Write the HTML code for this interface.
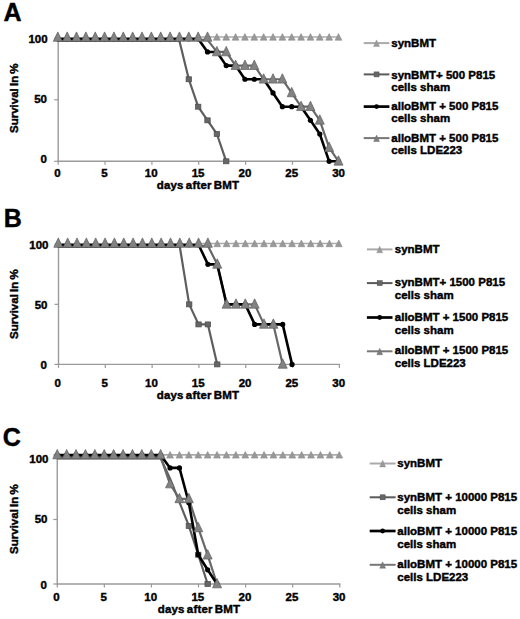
<!DOCTYPE html>
<html><head><meta charset="utf-8"><style>
html,body{margin:0;padding:0;background:#fff;width:520px;height:619px;overflow:hidden}
svg{display:block}
text{font-family:"Liberation Sans", sans-serif;fill:#000;stroke:#000;stroke-width:0.42px}
</style></head><body>
<svg width="520" height="619" viewBox="0 0 520 619">
<text x="3.5" y="20.6" font-size="25" font-weight="bold">A</text>
<line x1="58.2" y1="37.8" x2="58.2" y2="161.8" stroke="#9a9a9a" stroke-width="1.4"/>
<line x1="57.7" y1="161.3" x2="340" y2="161.3" stroke="#9a9a9a" stroke-width="1.4"/>
<line x1="54.2" y1="161.3" x2="58.2" y2="161.3" stroke="#9a9a9a" stroke-width="1.2"/>
<line x1="54.2" y1="99.8" x2="58.2" y2="99.8" stroke="#9a9a9a" stroke-width="1.2"/>
<line x1="54.2" y1="38.3" x2="58.2" y2="38.3" stroke="#9a9a9a" stroke-width="1.2"/>
<line x1="58.2" y1="161.3" x2="58.2" y2="164.8" stroke="#9a9a9a" stroke-width="1.2"/>
<line x1="105.05" y1="161.3" x2="105.05" y2="164.8" stroke="#9a9a9a" stroke-width="1.2"/>
<line x1="151.9" y1="161.3" x2="151.9" y2="164.8" stroke="#9a9a9a" stroke-width="1.2"/>
<line x1="198.75" y1="161.3" x2="198.75" y2="164.8" stroke="#9a9a9a" stroke-width="1.2"/>
<line x1="245.6" y1="161.3" x2="245.6" y2="164.8" stroke="#9a9a9a" stroke-width="1.2"/>
<line x1="292.45" y1="161.3" x2="292.45" y2="164.8" stroke="#9a9a9a" stroke-width="1.2"/>
<line x1="339.3" y1="161.3" x2="339.3" y2="164.8" stroke="#9a9a9a" stroke-width="1.2"/>
<text x="47.6" y="43.2" font-size="11.5" font-weight="bold" text-anchor="end">100</text>
<text x="47" y="103.2" font-size="11.5" font-weight="bold" text-anchor="end">50</text>
<text x="47" y="162.7" font-size="11.5" font-weight="bold" text-anchor="end">0</text>
<text x="57.50" y="177.2" font-size="11.5" font-weight="bold" text-anchor="middle">0</text>
<text x="104.35" y="177.2" font-size="11.5" font-weight="bold" text-anchor="middle">5</text>
<text x="151.20" y="177.2" font-size="11.5" font-weight="bold" text-anchor="middle">10</text>
<text x="198.05" y="177.2" font-size="11.5" font-weight="bold" text-anchor="middle">15</text>
<text x="244.90" y="177.2" font-size="11.5" font-weight="bold" text-anchor="middle">20</text>
<text x="291.75" y="177.2" font-size="11.5" font-weight="bold" text-anchor="middle">25</text>
<text x="338.60" y="177.2" font-size="11.5" font-weight="bold" text-anchor="middle">30</text>
<text x="198" y="189.4" font-size="11.5" font-weight="bold" text-anchor="middle" word-spacing="-1.2" letter-spacing="0.18">days after BMT</text>
<text transform="translate(17.9,98.2) rotate(-90)" x="0" y="0" font-size="11.5" font-weight="bold" text-anchor="middle" word-spacing="-1">Survival In %</text>
<polyline points="198.15,37.00 207.51,37.00 216.87,37.00 226.23,37.00 235.58,37.00 244.94,37.00 254.30,37.00 263.65,37.00 273.01,37.00 282.37,37.00 291.72,37.00 301.08,37.00 310.44,37.00 319.80,37.00 329.15,37.00 338.51,37.00" fill="none" stroke="#ababab" stroke-width="1.7" stroke-linejoin="round"/>
<polygon points="54.40,40.20 57.80,33.60 61.20,40.20" fill="#999" stroke="#8c8c8c" stroke-width="0.6"/>
<polygon points="63.76,40.20 67.16,33.60 70.56,40.20" fill="#999" stroke="#8c8c8c" stroke-width="0.6"/>
<polygon points="73.11,40.20 76.51,33.60 79.91,40.20" fill="#999" stroke="#8c8c8c" stroke-width="0.6"/>
<polygon points="82.47,40.20 85.87,33.60 89.27,40.20" fill="#999" stroke="#8c8c8c" stroke-width="0.6"/>
<polygon points="91.83,40.20 95.23,33.60 98.63,40.20" fill="#999" stroke="#8c8c8c" stroke-width="0.6"/>
<polygon points="101.18,40.20 104.58,33.60 107.98,40.20" fill="#999" stroke="#8c8c8c" stroke-width="0.6"/>
<polygon points="110.54,40.20 113.94,33.60 117.34,40.20" fill="#999" stroke="#8c8c8c" stroke-width="0.6"/>
<polygon points="119.90,40.20 123.30,33.60 126.70,40.20" fill="#999" stroke="#8c8c8c" stroke-width="0.6"/>
<polygon points="129.26,40.20 132.66,33.60 136.06,40.20" fill="#999" stroke="#8c8c8c" stroke-width="0.6"/>
<polygon points="138.61,40.20 142.01,33.60 145.41,40.20" fill="#999" stroke="#8c8c8c" stroke-width="0.6"/>
<polygon points="147.97,40.20 151.37,33.60 154.77,40.20" fill="#999" stroke="#8c8c8c" stroke-width="0.6"/>
<polygon points="157.33,40.20 160.73,33.60 164.13,40.20" fill="#999" stroke="#8c8c8c" stroke-width="0.6"/>
<polygon points="166.68,40.20 170.08,33.60 173.48,40.20" fill="#999" stroke="#8c8c8c" stroke-width="0.6"/>
<polygon points="176.04,40.20 179.44,33.60 182.84,40.20" fill="#999" stroke="#8c8c8c" stroke-width="0.6"/>
<polygon points="185.40,40.20 188.80,33.60 192.20,40.20" fill="#999" stroke="#8c8c8c" stroke-width="0.6"/>
<polygon points="194.75,40.20 198.15,33.60 201.55,40.20" fill="#999" stroke="#8c8c8c" stroke-width="0.6"/>
<polygon points="204.11,40.20 207.51,33.60 210.91,40.20" fill="#999" stroke="#8c8c8c" stroke-width="0.6"/>
<polygon points="213.47,40.20 216.87,33.60 220.27,40.20" fill="#999" stroke="#8c8c8c" stroke-width="0.6"/>
<polygon points="222.83,40.20 226.23,33.60 229.63,40.20" fill="#999" stroke="#8c8c8c" stroke-width="0.6"/>
<polygon points="232.18,40.20 235.58,33.60 238.98,40.20" fill="#999" stroke="#8c8c8c" stroke-width="0.6"/>
<polygon points="241.54,40.20 244.94,33.60 248.34,40.20" fill="#999" stroke="#8c8c8c" stroke-width="0.6"/>
<polygon points="250.90,40.20 254.30,33.60 257.70,40.20" fill="#999" stroke="#8c8c8c" stroke-width="0.6"/>
<polygon points="260.25,40.20 263.65,33.60 267.05,40.20" fill="#999" stroke="#8c8c8c" stroke-width="0.6"/>
<polygon points="269.61,40.20 273.01,33.60 276.41,40.20" fill="#999" stroke="#8c8c8c" stroke-width="0.6"/>
<polygon points="278.97,40.20 282.37,33.60 285.77,40.20" fill="#999" stroke="#8c8c8c" stroke-width="0.6"/>
<polygon points="288.32,40.20 291.72,33.60 295.12,40.20" fill="#999" stroke="#8c8c8c" stroke-width="0.6"/>
<polygon points="297.68,40.20 301.08,33.60 304.48,40.20" fill="#999" stroke="#8c8c8c" stroke-width="0.6"/>
<polygon points="307.04,40.20 310.44,33.60 313.84,40.20" fill="#999" stroke="#8c8c8c" stroke-width="0.6"/>
<polygon points="316.40,40.20 319.80,33.60 323.20,40.20" fill="#999" stroke="#8c8c8c" stroke-width="0.6"/>
<polygon points="325.75,40.20 329.15,33.60 332.55,40.20" fill="#999" stroke="#8c8c8c" stroke-width="0.6"/>
<polygon points="335.11,40.20 338.51,33.60 341.91,40.20" fill="#999" stroke="#8c8c8c" stroke-width="0.6"/>
<polyline points="57.80,41.00 67.16,41.00 76.51,41.00 85.87,41.00 95.23,41.00 104.58,41.00 113.94,41.00 123.30,41.00 132.66,41.00 142.01,41.00 151.37,41.00 160.73,41.00 170.08,41.00 179.44,41.00 188.80,79.26 198.15,106.69 207.51,120.34 216.87,133.99 226.23,161.30" fill="none" stroke="#5e5e5e" stroke-width="2.2" stroke-linejoin="round"/>
<rect x="186.10" y="76.76" width="5.4" height="5" fill="#666" stroke="#4a4a4a" stroke-width="0.7"/>
<rect x="195.45" y="104.19" width="5.4" height="5" fill="#666" stroke="#4a4a4a" stroke-width="0.7"/>
<rect x="204.81" y="117.84" width="5.4" height="5" fill="#666" stroke="#4a4a4a" stroke-width="0.7"/>
<rect x="214.17" y="131.49" width="5.4" height="5" fill="#666" stroke="#4a4a4a" stroke-width="0.7"/>
<rect x="223.53" y="158.80" width="5.4" height="5" fill="#666" stroke="#4a4a4a" stroke-width="0.7"/>
<polyline points="57.80,39.80 67.16,39.80 76.51,39.80 85.87,39.80 95.23,39.80 104.58,39.80 113.94,39.80 123.30,39.80 132.66,39.80 142.01,39.80 151.37,39.80 160.73,39.80 170.08,39.80 179.44,39.80 188.80,39.80 198.15,39.80 207.51,39.80 216.87,51.95 226.23,51.95 235.58,65.61 244.94,65.61 254.30,65.61 263.65,79.26 273.01,79.26 282.37,79.26 291.72,92.91 301.08,106.69 310.44,106.69 319.80,120.34 329.15,147.65 338.51,161.30" fill="none" stroke="#686868" stroke-width="2.2" stroke-linejoin="round"/>
<polyline points="57.80,38.80 67.16,38.80 76.51,38.80 85.87,38.80 95.23,38.80 104.58,38.80 113.94,38.80 123.30,38.80 132.66,38.80 142.01,38.80 151.37,38.80 160.73,38.80 170.08,38.80 179.44,38.80 188.80,38.80 198.15,38.80 207.51,51.95 216.87,51.95 226.23,65.61 235.58,65.61 244.94,79.26 254.30,79.26 263.65,79.26 273.01,92.91 282.37,106.69 291.72,106.69 301.08,106.69 310.44,120.34 319.80,133.99 329.15,161.30 338.51,161.30" fill="none" stroke="#000000" stroke-width="2.6" stroke-linejoin="round"/>
<circle cx="57.80" cy="38.80" r="2.6" fill="#000"/>
<circle cx="67.16" cy="38.80" r="2.6" fill="#000"/>
<circle cx="76.51" cy="38.80" r="2.6" fill="#000"/>
<circle cx="85.87" cy="38.80" r="2.6" fill="#000"/>
<circle cx="95.23" cy="38.80" r="2.6" fill="#000"/>
<circle cx="104.58" cy="38.80" r="2.6" fill="#000"/>
<circle cx="113.94" cy="38.80" r="2.6" fill="#000"/>
<circle cx="123.30" cy="38.80" r="2.6" fill="#000"/>
<circle cx="132.66" cy="38.80" r="2.6" fill="#000"/>
<circle cx="142.01" cy="38.80" r="2.6" fill="#000"/>
<circle cx="151.37" cy="38.80" r="2.6" fill="#000"/>
<circle cx="160.73" cy="38.80" r="2.6" fill="#000"/>
<circle cx="170.08" cy="38.80" r="2.6" fill="#000"/>
<circle cx="179.44" cy="38.80" r="2.6" fill="#000"/>
<circle cx="188.80" cy="38.80" r="2.6" fill="#000"/>
<circle cx="198.15" cy="38.80" r="2.6" fill="#000"/>
<circle cx="207.51" cy="51.95" r="2.6" fill="#000"/>
<circle cx="216.87" cy="51.95" r="2.6" fill="#000"/>
<circle cx="226.23" cy="65.61" r="2.6" fill="#000"/>
<circle cx="235.58" cy="65.61" r="2.6" fill="#000"/>
<circle cx="244.94" cy="79.26" r="2.6" fill="#000"/>
<circle cx="254.30" cy="79.26" r="2.6" fill="#000"/>
<circle cx="263.65" cy="79.26" r="2.6" fill="#000"/>
<circle cx="273.01" cy="92.91" r="2.6" fill="#000"/>
<circle cx="282.37" cy="106.69" r="2.6" fill="#000"/>
<circle cx="291.72" cy="106.69" r="2.6" fill="#000"/>
<circle cx="301.08" cy="106.69" r="2.6" fill="#000"/>
<circle cx="310.44" cy="120.34" r="2.6" fill="#000"/>
<circle cx="319.80" cy="133.99" r="2.6" fill="#000"/>
<circle cx="329.15" cy="161.30" r="2.6" fill="#000"/>
<circle cx="338.51" cy="161.30" r="2.6" fill="#000"/>
<polygon points="53.30,41.30 57.80,31.90 62.30,41.30" fill="#828282" stroke="#5e5e5e" stroke-width="0.7"/>
<polygon points="62.66,41.30 67.16,31.90 71.66,41.30" fill="#828282" stroke="#5e5e5e" stroke-width="0.7"/>
<polygon points="72.01,41.30 76.51,31.90 81.01,41.30" fill="#828282" stroke="#5e5e5e" stroke-width="0.7"/>
<polygon points="81.37,41.30 85.87,31.90 90.37,41.30" fill="#828282" stroke="#5e5e5e" stroke-width="0.7"/>
<polygon points="90.73,41.30 95.23,31.90 99.73,41.30" fill="#828282" stroke="#5e5e5e" stroke-width="0.7"/>
<polygon points="100.08,41.30 104.58,31.90 109.08,41.30" fill="#828282" stroke="#5e5e5e" stroke-width="0.7"/>
<polygon points="109.44,41.30 113.94,31.90 118.44,41.30" fill="#828282" stroke="#5e5e5e" stroke-width="0.7"/>
<polygon points="118.80,41.30 123.30,31.90 127.80,41.30" fill="#828282" stroke="#5e5e5e" stroke-width="0.7"/>
<polygon points="128.16,41.30 132.66,31.90 137.16,41.30" fill="#828282" stroke="#5e5e5e" stroke-width="0.7"/>
<polygon points="137.51,41.30 142.01,31.90 146.51,41.30" fill="#828282" stroke="#5e5e5e" stroke-width="0.7"/>
<polygon points="146.87,41.30 151.37,31.90 155.87,41.30" fill="#828282" stroke="#5e5e5e" stroke-width="0.7"/>
<polygon points="156.23,41.30 160.73,31.90 165.23,41.30" fill="#828282" stroke="#5e5e5e" stroke-width="0.7"/>
<polygon points="165.58,41.30 170.08,31.90 174.58,41.30" fill="#828282" stroke="#5e5e5e" stroke-width="0.7"/>
<polygon points="174.94,41.30 179.44,31.90 183.94,41.30" fill="#828282" stroke="#5e5e5e" stroke-width="0.7"/>
<polygon points="184.30,41.30 188.80,31.90 193.30,41.30" fill="#828282" stroke="#5e5e5e" stroke-width="0.7"/>
<polygon points="193.65,41.30 198.15,31.90 202.65,41.30" fill="#828282" stroke="#5e5e5e" stroke-width="0.7"/>
<polygon points="203.01,41.30 207.51,31.90 212.01,41.30" fill="#828282" stroke="#5e5e5e" stroke-width="0.7"/>
<polygon points="212.37,55.80 216.87,46.40 221.37,55.80" fill="#828282" stroke="#5e5e5e" stroke-width="0.7"/>
<polygon points="221.73,55.80 226.23,46.40 230.73,55.80" fill="#828282" stroke="#5e5e5e" stroke-width="0.7"/>
<polygon points="231.08,69.46 235.58,60.06 240.08,69.46" fill="#828282" stroke="#5e5e5e" stroke-width="0.7"/>
<polygon points="240.44,69.46 244.94,60.06 249.44,69.46" fill="#828282" stroke="#5e5e5e" stroke-width="0.7"/>
<polygon points="249.80,69.46 254.30,60.06 258.80,69.46" fill="#828282" stroke="#5e5e5e" stroke-width="0.7"/>
<polygon points="259.15,83.11 263.65,73.71 268.15,83.11" fill="#828282" stroke="#5e5e5e" stroke-width="0.7"/>
<polygon points="268.51,83.11 273.01,73.71 277.51,83.11" fill="#828282" stroke="#5e5e5e" stroke-width="0.7"/>
<polygon points="277.87,83.11 282.37,73.71 286.87,83.11" fill="#828282" stroke="#5e5e5e" stroke-width="0.7"/>
<polygon points="287.22,96.76 291.72,87.36 296.22,96.76" fill="#828282" stroke="#5e5e5e" stroke-width="0.7"/>
<polygon points="296.58,110.54 301.08,101.14 305.58,110.54" fill="#828282" stroke="#5e5e5e" stroke-width="0.7"/>
<polygon points="305.94,110.54 310.44,101.14 314.94,110.54" fill="#828282" stroke="#5e5e5e" stroke-width="0.7"/>
<polygon points="315.30,124.19 319.80,114.79 324.30,124.19" fill="#828282" stroke="#5e5e5e" stroke-width="0.7"/>
<polygon points="324.65,151.50 329.15,142.10 333.65,151.50" fill="#828282" stroke="#5e5e5e" stroke-width="0.7"/>
<polygon points="334.01,165.15 338.51,155.75 343.01,165.15" fill="#828282" stroke="#5e5e5e" stroke-width="0.7"/>
<line x1="363.7" y1="43.1" x2="389.4" y2="43.1" stroke="#aaaaaa" stroke-width="2"/>
<polygon points="373.55,46.50 376.55,39.90 379.55,46.50" fill="#9a9a9a" stroke="#8c8c8c" stroke-width="0.4"/>
<text x="391.3" y="46.9" font-size="11.5" font-weight="bold">synBMT</text>
<line x1="363.7" y1="74.4" x2="389.4" y2="74.4" stroke="#5a5a5a" stroke-width="2"/>
<rect x="374.05" y="71.90" width="5" height="5" fill="#666" stroke="#4a4a4a" stroke-width="0.5"/>
<text x="391.3" y="78.75" font-size="11.5" font-weight="bold">synBMT+ 500 P815</text>
<text x="391.3" y="91.25" font-size="11.5" font-weight="bold">cells sham</text>
<line x1="363.7" y1="106.6" x2="389.4" y2="106.6" stroke="#000000" stroke-width="2.7"/>
<circle cx="376.55" cy="106.60" r="2.4" fill="#000"/>
<text x="391.3" y="109.9" font-size="11.5" font-weight="bold">alloBMT + 500 P815</text>
<text x="391.3" y="122.3" font-size="11.5" font-weight="bold">cells sham</text>
<line x1="363.7" y1="138.1" x2="389.4" y2="138.1" stroke="#777777" stroke-width="2"/>
<polygon points="373.65,141.50 376.55,135.10 379.45,141.50" fill="#7e7e7e" stroke="#5e5e5e" stroke-width="0.4"/>
<text x="391.3" y="141.6" font-size="11.5" font-weight="bold">alloBMT + 500 P815</text>
<text x="391.3" y="154" font-size="11.5" font-weight="bold">cells LDE223</text>
<text x="3.7" y="226.6" font-size="25" font-weight="bold">B</text>
<line x1="58.5" y1="243.8" x2="58.5" y2="364.9" stroke="#9a9a9a" stroke-width="1.4"/>
<line x1="58.0" y1="364.4" x2="340.09" y2="364.4" stroke="#9a9a9a" stroke-width="1.4"/>
<line x1="54.5" y1="364.4" x2="58.5" y2="364.4" stroke="#9a9a9a" stroke-width="1.2"/>
<line x1="54.5" y1="304.35" x2="58.5" y2="304.35" stroke="#9a9a9a" stroke-width="1.2"/>
<line x1="54.5" y1="244.3" x2="58.5" y2="244.3" stroke="#9a9a9a" stroke-width="1.2"/>
<line x1="58.5" y1="364.4" x2="58.5" y2="367.9" stroke="#9a9a9a" stroke-width="1.2"/>
<line x1="105.31" y1="364.4" x2="105.31" y2="367.9" stroke="#9a9a9a" stroke-width="1.2"/>
<line x1="152.13" y1="364.4" x2="152.13" y2="367.9" stroke="#9a9a9a" stroke-width="1.2"/>
<line x1="198.94" y1="364.4" x2="198.94" y2="367.9" stroke="#9a9a9a" stroke-width="1.2"/>
<line x1="245.76" y1="364.4" x2="245.76" y2="367.9" stroke="#9a9a9a" stroke-width="1.2"/>
<line x1="292.57" y1="364.4" x2="292.57" y2="367.9" stroke="#9a9a9a" stroke-width="1.2"/>
<line x1="339.39" y1="364.4" x2="339.39" y2="367.9" stroke="#9a9a9a" stroke-width="1.2"/>
<text x="48.5" y="249.4" font-size="11.5" font-weight="bold" text-anchor="end">100</text>
<text x="47.5" y="309" font-size="11.5" font-weight="bold" text-anchor="end">50</text>
<text x="47" y="368.8" font-size="11.5" font-weight="bold" text-anchor="end">0</text>
<text x="57.80" y="387.3" font-size="11.5" font-weight="bold" text-anchor="middle">0</text>
<text x="104.61" y="387.3" font-size="11.5" font-weight="bold" text-anchor="middle">5</text>
<text x="151.43" y="387.3" font-size="11.5" font-weight="bold" text-anchor="middle">10</text>
<text x="198.25" y="387.3" font-size="11.5" font-weight="bold" text-anchor="middle">15</text>
<text x="245.06" y="387.3" font-size="11.5" font-weight="bold" text-anchor="middle">20</text>
<text x="291.88" y="387.3" font-size="11.5" font-weight="bold" text-anchor="middle">25</text>
<text x="338.69" y="387.3" font-size="11.5" font-weight="bold" text-anchor="middle">30</text>
<text x="198" y="398.7" font-size="11.5" font-weight="bold" text-anchor="middle" word-spacing="-1.2" letter-spacing="0.18">days after BMT</text>
<text transform="translate(18.0,304.1) rotate(-90)" x="0" y="0" font-size="11.5" font-weight="bold" text-anchor="middle" word-spacing="-1">Survival In %</text>
<polyline points="198.55,243.50 207.90,243.50 217.25,243.50 226.60,243.50 235.95,243.50 245.30,243.50 254.65,243.50 264.00,243.50 273.35,243.50 282.70,243.50 292.05,243.50 301.40,243.50 310.75,243.50 320.10,243.50 329.45,243.50 338.80,243.50" fill="none" stroke="#ababab" stroke-width="1.7" stroke-linejoin="round"/>
<polygon points="54.90,246.70 58.30,240.10 61.70,246.70" fill="#999" stroke="#8c8c8c" stroke-width="0.6"/>
<polygon points="64.25,246.70 67.65,240.10 71.05,246.70" fill="#999" stroke="#8c8c8c" stroke-width="0.6"/>
<polygon points="73.60,246.70 77.00,240.10 80.40,246.70" fill="#999" stroke="#8c8c8c" stroke-width="0.6"/>
<polygon points="82.95,246.70 86.35,240.10 89.75,246.70" fill="#999" stroke="#8c8c8c" stroke-width="0.6"/>
<polygon points="92.30,246.70 95.70,240.10 99.10,246.70" fill="#999" stroke="#8c8c8c" stroke-width="0.6"/>
<polygon points="101.65,246.70 105.05,240.10 108.45,246.70" fill="#999" stroke="#8c8c8c" stroke-width="0.6"/>
<polygon points="111.00,246.70 114.40,240.10 117.80,246.70" fill="#999" stroke="#8c8c8c" stroke-width="0.6"/>
<polygon points="120.35,246.70 123.75,240.10 127.15,246.70" fill="#999" stroke="#8c8c8c" stroke-width="0.6"/>
<polygon points="129.70,246.70 133.10,240.10 136.50,246.70" fill="#999" stroke="#8c8c8c" stroke-width="0.6"/>
<polygon points="139.05,246.70 142.45,240.10 145.85,246.70" fill="#999" stroke="#8c8c8c" stroke-width="0.6"/>
<polygon points="148.40,246.70 151.80,240.10 155.20,246.70" fill="#999" stroke="#8c8c8c" stroke-width="0.6"/>
<polygon points="157.75,246.70 161.15,240.10 164.55,246.70" fill="#999" stroke="#8c8c8c" stroke-width="0.6"/>
<polygon points="167.10,246.70 170.50,240.10 173.90,246.70" fill="#999" stroke="#8c8c8c" stroke-width="0.6"/>
<polygon points="176.45,246.70 179.85,240.10 183.25,246.70" fill="#999" stroke="#8c8c8c" stroke-width="0.6"/>
<polygon points="185.80,246.70 189.20,240.10 192.60,246.70" fill="#999" stroke="#8c8c8c" stroke-width="0.6"/>
<polygon points="195.15,246.70 198.55,240.10 201.95,246.70" fill="#999" stroke="#8c8c8c" stroke-width="0.6"/>
<polygon points="204.50,246.70 207.90,240.10 211.30,246.70" fill="#999" stroke="#8c8c8c" stroke-width="0.6"/>
<polygon points="213.85,246.70 217.25,240.10 220.65,246.70" fill="#999" stroke="#8c8c8c" stroke-width="0.6"/>
<polygon points="223.20,246.70 226.60,240.10 230.00,246.70" fill="#999" stroke="#8c8c8c" stroke-width="0.6"/>
<polygon points="232.55,246.70 235.95,240.10 239.35,246.70" fill="#999" stroke="#8c8c8c" stroke-width="0.6"/>
<polygon points="241.90,246.70 245.30,240.10 248.70,246.70" fill="#999" stroke="#8c8c8c" stroke-width="0.6"/>
<polygon points="251.25,246.70 254.65,240.10 258.05,246.70" fill="#999" stroke="#8c8c8c" stroke-width="0.6"/>
<polygon points="260.60,246.70 264.00,240.10 267.40,246.70" fill="#999" stroke="#8c8c8c" stroke-width="0.6"/>
<polygon points="269.95,246.70 273.35,240.10 276.75,246.70" fill="#999" stroke="#8c8c8c" stroke-width="0.6"/>
<polygon points="279.30,246.70 282.70,240.10 286.10,246.70" fill="#999" stroke="#8c8c8c" stroke-width="0.6"/>
<polygon points="288.65,246.70 292.05,240.10 295.45,246.70" fill="#999" stroke="#8c8c8c" stroke-width="0.6"/>
<polygon points="298.00,246.70 301.40,240.10 304.80,246.70" fill="#999" stroke="#8c8c8c" stroke-width="0.6"/>
<polygon points="307.35,246.70 310.75,240.10 314.15,246.70" fill="#999" stroke="#8c8c8c" stroke-width="0.6"/>
<polygon points="316.70,246.70 320.10,240.10 323.50,246.70" fill="#999" stroke="#8c8c8c" stroke-width="0.6"/>
<polygon points="326.05,246.70 329.45,240.10 332.85,246.70" fill="#999" stroke="#8c8c8c" stroke-width="0.6"/>
<polygon points="335.40,246.70 338.80,240.10 342.20,246.70" fill="#999" stroke="#8c8c8c" stroke-width="0.6"/>
<polyline points="58.30,247.00 67.65,247.00 77.00,247.00 86.35,247.00 95.70,247.00 105.05,247.00 114.40,247.00 123.75,247.00 133.10,247.00 142.45,247.00 151.80,247.00 161.15,247.00 170.50,247.00 179.85,247.00 189.20,304.35 198.55,324.41 207.90,324.41 217.25,364.40" fill="none" stroke="#5e5e5e" stroke-width="2.2" stroke-linejoin="round"/>
<rect x="186.50" y="301.85" width="5.4" height="5" fill="#666" stroke="#4a4a4a" stroke-width="0.7"/>
<rect x="195.85" y="321.91" width="5.4" height="5" fill="#666" stroke="#4a4a4a" stroke-width="0.7"/>
<rect x="205.20" y="321.91" width="5.4" height="5" fill="#666" stroke="#4a4a4a" stroke-width="0.7"/>
<rect x="214.55" y="361.90" width="5.4" height="5" fill="#666" stroke="#4a4a4a" stroke-width="0.7"/>
<polyline points="58.30,245.80 67.65,245.80 77.00,245.80 86.35,245.80 95.70,245.80 105.05,245.80 114.40,245.80 123.75,245.80 133.10,245.80 142.45,245.80 151.80,245.80 161.15,245.80 170.50,245.80 179.85,245.80 189.20,245.80 198.55,245.80 207.90,245.80 217.25,264.36 226.60,304.35 235.95,304.35 245.30,304.35 254.65,304.35 264.00,324.41 273.35,324.41 282.70,364.40" fill="none" stroke="#686868" stroke-width="2.2" stroke-linejoin="round"/>
<polyline points="58.30,244.70 67.65,244.70 77.00,244.70 86.35,244.70 95.70,244.70 105.05,244.70 114.40,244.70 123.75,244.70 133.10,244.70 142.45,244.70 151.80,244.70 161.15,244.70 170.50,244.70 179.85,244.70 189.20,244.70 198.55,244.70 207.90,264.36 217.25,264.36 226.60,304.35 235.95,304.35 245.30,304.35 254.65,324.41 264.00,324.41 273.35,324.41 282.70,324.41 292.05,364.40" fill="none" stroke="#000000" stroke-width="2.6" stroke-linejoin="round"/>
<circle cx="58.30" cy="244.70" r="2.6" fill="#000"/>
<circle cx="67.65" cy="244.70" r="2.6" fill="#000"/>
<circle cx="77.00" cy="244.70" r="2.6" fill="#000"/>
<circle cx="86.35" cy="244.70" r="2.6" fill="#000"/>
<circle cx="95.70" cy="244.70" r="2.6" fill="#000"/>
<circle cx="105.05" cy="244.70" r="2.6" fill="#000"/>
<circle cx="114.40" cy="244.70" r="2.6" fill="#000"/>
<circle cx="123.75" cy="244.70" r="2.6" fill="#000"/>
<circle cx="133.10" cy="244.70" r="2.6" fill="#000"/>
<circle cx="142.45" cy="244.70" r="2.6" fill="#000"/>
<circle cx="151.80" cy="244.70" r="2.6" fill="#000"/>
<circle cx="161.15" cy="244.70" r="2.6" fill="#000"/>
<circle cx="170.50" cy="244.70" r="2.6" fill="#000"/>
<circle cx="179.85" cy="244.70" r="2.6" fill="#000"/>
<circle cx="189.20" cy="244.70" r="2.6" fill="#000"/>
<circle cx="198.55" cy="244.70" r="2.6" fill="#000"/>
<circle cx="207.90" cy="264.36" r="2.6" fill="#000"/>
<circle cx="217.25" cy="264.36" r="2.6" fill="#000"/>
<circle cx="226.60" cy="304.35" r="2.6" fill="#000"/>
<circle cx="235.95" cy="304.35" r="2.6" fill="#000"/>
<circle cx="245.30" cy="304.35" r="2.6" fill="#000"/>
<circle cx="254.65" cy="324.41" r="2.6" fill="#000"/>
<circle cx="264.00" cy="324.41" r="2.6" fill="#000"/>
<circle cx="273.35" cy="324.41" r="2.6" fill="#000"/>
<circle cx="282.70" cy="324.41" r="2.6" fill="#000"/>
<circle cx="292.05" cy="364.40" r="2.6" fill="#000"/>
<polygon points="53.80,247.30 58.30,237.90 62.80,247.30" fill="#828282" stroke="#5e5e5e" stroke-width="0.7"/>
<polygon points="63.15,247.30 67.65,237.90 72.15,247.30" fill="#828282" stroke="#5e5e5e" stroke-width="0.7"/>
<polygon points="72.50,247.30 77.00,237.90 81.50,247.30" fill="#828282" stroke="#5e5e5e" stroke-width="0.7"/>
<polygon points="81.85,247.30 86.35,237.90 90.85,247.30" fill="#828282" stroke="#5e5e5e" stroke-width="0.7"/>
<polygon points="91.20,247.30 95.70,237.90 100.20,247.30" fill="#828282" stroke="#5e5e5e" stroke-width="0.7"/>
<polygon points="100.55,247.30 105.05,237.90 109.55,247.30" fill="#828282" stroke="#5e5e5e" stroke-width="0.7"/>
<polygon points="109.90,247.30 114.40,237.90 118.90,247.30" fill="#828282" stroke="#5e5e5e" stroke-width="0.7"/>
<polygon points="119.25,247.30 123.75,237.90 128.25,247.30" fill="#828282" stroke="#5e5e5e" stroke-width="0.7"/>
<polygon points="128.60,247.30 133.10,237.90 137.60,247.30" fill="#828282" stroke="#5e5e5e" stroke-width="0.7"/>
<polygon points="137.95,247.30 142.45,237.90 146.95,247.30" fill="#828282" stroke="#5e5e5e" stroke-width="0.7"/>
<polygon points="147.30,247.30 151.80,237.90 156.30,247.30" fill="#828282" stroke="#5e5e5e" stroke-width="0.7"/>
<polygon points="156.65,247.30 161.15,237.90 165.65,247.30" fill="#828282" stroke="#5e5e5e" stroke-width="0.7"/>
<polygon points="166.00,247.30 170.50,237.90 175.00,247.30" fill="#828282" stroke="#5e5e5e" stroke-width="0.7"/>
<polygon points="175.35,247.30 179.85,237.90 184.35,247.30" fill="#828282" stroke="#5e5e5e" stroke-width="0.7"/>
<polygon points="184.70,247.30 189.20,237.90 193.70,247.30" fill="#828282" stroke="#5e5e5e" stroke-width="0.7"/>
<polygon points="194.05,247.30 198.55,237.90 203.05,247.30" fill="#828282" stroke="#5e5e5e" stroke-width="0.7"/>
<polygon points="203.40,247.30 207.90,237.90 212.40,247.30" fill="#828282" stroke="#5e5e5e" stroke-width="0.7"/>
<polygon points="212.75,268.21 217.25,258.81 221.75,268.21" fill="#828282" stroke="#5e5e5e" stroke-width="0.7"/>
<polygon points="222.10,308.20 226.60,298.80 231.10,308.20" fill="#828282" stroke="#5e5e5e" stroke-width="0.7"/>
<polygon points="231.45,308.20 235.95,298.80 240.45,308.20" fill="#828282" stroke="#5e5e5e" stroke-width="0.7"/>
<polygon points="240.80,308.20 245.30,298.80 249.80,308.20" fill="#828282" stroke="#5e5e5e" stroke-width="0.7"/>
<polygon points="250.15,308.20 254.65,298.80 259.15,308.20" fill="#828282" stroke="#5e5e5e" stroke-width="0.7"/>
<polygon points="259.50,328.26 264.00,318.86 268.50,328.26" fill="#828282" stroke="#5e5e5e" stroke-width="0.7"/>
<polygon points="268.85,328.26 273.35,318.86 277.85,328.26" fill="#828282" stroke="#5e5e5e" stroke-width="0.7"/>
<polygon points="278.20,368.25 282.70,358.85 287.20,368.25" fill="#828282" stroke="#5e5e5e" stroke-width="0.7"/>
<line x1="366.9" y1="249.4" x2="392.5" y2="249.4" stroke="#aaaaaa" stroke-width="2"/>
<polygon points="376.70,252.80 379.70,246.20 382.70,252.80" fill="#9a9a9a" stroke="#8c8c8c" stroke-width="0.4"/>
<text x="394.8" y="252.6" font-size="11.5" font-weight="bold">synBMT</text>
<line x1="366.9" y1="283.1" x2="392.5" y2="283.1" stroke="#5a5a5a" stroke-width="2"/>
<rect x="377.20" y="280.60" width="5" height="5" fill="#666" stroke="#4a4a4a" stroke-width="0.5"/>
<text x="394.8" y="286.3" font-size="11.5" font-weight="bold">synBMT+ 1500 P815</text>
<text x="394.8" y="299.2" font-size="11.5" font-weight="bold">cells sham</text>
<line x1="366.9" y1="317.5" x2="392.5" y2="317.5" stroke="#000000" stroke-width="2.7"/>
<circle cx="379.70" cy="317.50" r="2.4" fill="#000"/>
<text x="394.8" y="320.6" font-size="11.5" font-weight="bold">alloBMT + 1500 P815</text>
<text x="394.8" y="333.6" font-size="11.5" font-weight="bold">cells sham</text>
<line x1="366.9" y1="351.3" x2="392.5" y2="351.3" stroke="#777777" stroke-width="2"/>
<polygon points="376.80,354.70 379.70,348.30 382.60,354.70" fill="#7e7e7e" stroke="#5e5e5e" stroke-width="0.4"/>
<text x="394.8" y="354.4" font-size="11.5" font-weight="bold">alloBMT + 1500 P815</text>
<text x="394.8" y="367.4" font-size="11.5" font-weight="bold">cells LDE223</text>
<text x="2.8" y="445.6" font-size="25" font-weight="bold">C</text>
<line x1="57.25" y1="454.5" x2="57.25" y2="584.5" stroke="#9a9a9a" stroke-width="1.4"/>
<line x1="56.75" y1="584.0" x2="340.46" y2="584.0" stroke="#9a9a9a" stroke-width="1.4"/>
<line x1="53.25" y1="584.0" x2="57.25" y2="584.0" stroke="#9a9a9a" stroke-width="1.2"/>
<line x1="53.25" y1="519.5" x2="57.25" y2="519.5" stroke="#9a9a9a" stroke-width="1.2"/>
<line x1="53.25" y1="455.0" x2="57.25" y2="455.0" stroke="#9a9a9a" stroke-width="1.2"/>
<line x1="57.25" y1="584.0" x2="57.25" y2="587.5" stroke="#9a9a9a" stroke-width="1.2"/>
<line x1="104.34" y1="584.0" x2="104.34" y2="587.5" stroke="#9a9a9a" stroke-width="1.2"/>
<line x1="151.42" y1="584.0" x2="151.42" y2="587.5" stroke="#9a9a9a" stroke-width="1.2"/>
<line x1="198.5" y1="584.0" x2="198.5" y2="587.5" stroke="#9a9a9a" stroke-width="1.2"/>
<line x1="245.59" y1="584.0" x2="245.59" y2="587.5" stroke="#9a9a9a" stroke-width="1.2"/>
<line x1="292.67" y1="584.0" x2="292.67" y2="587.5" stroke="#9a9a9a" stroke-width="1.2"/>
<line x1="339.76" y1="584.0" x2="339.76" y2="587.5" stroke="#9a9a9a" stroke-width="1.2"/>
<text x="48.5" y="462.8" font-size="11.5" font-weight="bold" text-anchor="end">100</text>
<text x="47.5" y="522.8" font-size="11.5" font-weight="bold" text-anchor="end">50</text>
<text x="47" y="589" font-size="11.5" font-weight="bold" text-anchor="end">0</text>
<text x="56.55" y="600.6" font-size="11.5" font-weight="bold" text-anchor="middle">0</text>
<text x="103.64" y="600.6" font-size="11.5" font-weight="bold" text-anchor="middle">5</text>
<text x="150.72" y="600.6" font-size="11.5" font-weight="bold" text-anchor="middle">10</text>
<text x="197.81" y="600.6" font-size="11.5" font-weight="bold" text-anchor="middle">15</text>
<text x="244.89" y="600.6" font-size="11.5" font-weight="bold" text-anchor="middle">20</text>
<text x="291.97" y="600.6" font-size="11.5" font-weight="bold" text-anchor="middle">25</text>
<text x="339.06" y="600.6" font-size="11.5" font-weight="bold" text-anchor="middle">30</text>
<text x="199" y="613.2" font-size="11.5" font-weight="bold" text-anchor="middle" word-spacing="-1.2" letter-spacing="0.18">days after BMT</text>
<text transform="translate(18.0,519.1) rotate(-90)" x="0" y="0" font-size="11.5" font-weight="bold" text-anchor="middle" word-spacing="-1">Survival In %</text>
<polyline points="160.65,454.90 170.05,454.90 179.45,454.90 188.85,454.90 198.25,454.90 207.65,454.90 217.05,454.90 226.45,454.90 235.85,454.90 245.25,454.90 254.65,454.90 264.05,454.90 273.45,454.90 282.85,454.90 292.25,454.90 301.65,454.90 311.05,454.90 320.45,454.90 329.85,454.90 339.25,454.90" fill="none" stroke="#ababab" stroke-width="1.7" stroke-linejoin="round"/>
<polygon points="53.85,458.10 57.25,451.50 60.65,458.10" fill="#999" stroke="#8c8c8c" stroke-width="0.6"/>
<polygon points="63.25,458.10 66.65,451.50 70.05,458.10" fill="#999" stroke="#8c8c8c" stroke-width="0.6"/>
<polygon points="72.65,458.10 76.05,451.50 79.45,458.10" fill="#999" stroke="#8c8c8c" stroke-width="0.6"/>
<polygon points="82.05,458.10 85.45,451.50 88.85,458.10" fill="#999" stroke="#8c8c8c" stroke-width="0.6"/>
<polygon points="91.45,458.10 94.85,451.50 98.25,458.10" fill="#999" stroke="#8c8c8c" stroke-width="0.6"/>
<polygon points="100.85,458.10 104.25,451.50 107.65,458.10" fill="#999" stroke="#8c8c8c" stroke-width="0.6"/>
<polygon points="110.25,458.10 113.65,451.50 117.05,458.10" fill="#999" stroke="#8c8c8c" stroke-width="0.6"/>
<polygon points="119.65,458.10 123.05,451.50 126.45,458.10" fill="#999" stroke="#8c8c8c" stroke-width="0.6"/>
<polygon points="129.05,458.10 132.45,451.50 135.85,458.10" fill="#999" stroke="#8c8c8c" stroke-width="0.6"/>
<polygon points="138.45,458.10 141.85,451.50 145.25,458.10" fill="#999" stroke="#8c8c8c" stroke-width="0.6"/>
<polygon points="147.85,458.10 151.25,451.50 154.65,458.10" fill="#999" stroke="#8c8c8c" stroke-width="0.6"/>
<polygon points="157.25,458.10 160.65,451.50 164.05,458.10" fill="#999" stroke="#8c8c8c" stroke-width="0.6"/>
<polygon points="166.65,458.10 170.05,451.50 173.45,458.10" fill="#999" stroke="#8c8c8c" stroke-width="0.6"/>
<polygon points="176.05,458.10 179.45,451.50 182.85,458.10" fill="#999" stroke="#8c8c8c" stroke-width="0.6"/>
<polygon points="185.45,458.10 188.85,451.50 192.25,458.10" fill="#999" stroke="#8c8c8c" stroke-width="0.6"/>
<polygon points="194.85,458.10 198.25,451.50 201.65,458.10" fill="#999" stroke="#8c8c8c" stroke-width="0.6"/>
<polygon points="204.25,458.10 207.65,451.50 211.05,458.10" fill="#999" stroke="#8c8c8c" stroke-width="0.6"/>
<polygon points="213.65,458.10 217.05,451.50 220.45,458.10" fill="#999" stroke="#8c8c8c" stroke-width="0.6"/>
<polygon points="223.05,458.10 226.45,451.50 229.85,458.10" fill="#999" stroke="#8c8c8c" stroke-width="0.6"/>
<polygon points="232.45,458.10 235.85,451.50 239.25,458.10" fill="#999" stroke="#8c8c8c" stroke-width="0.6"/>
<polygon points="241.85,458.10 245.25,451.50 248.65,458.10" fill="#999" stroke="#8c8c8c" stroke-width="0.6"/>
<polygon points="251.25,458.10 254.65,451.50 258.05,458.10" fill="#999" stroke="#8c8c8c" stroke-width="0.6"/>
<polygon points="260.65,458.10 264.05,451.50 267.45,458.10" fill="#999" stroke="#8c8c8c" stroke-width="0.6"/>
<polygon points="270.05,458.10 273.45,451.50 276.85,458.10" fill="#999" stroke="#8c8c8c" stroke-width="0.6"/>
<polygon points="279.45,458.10 282.85,451.50 286.25,458.10" fill="#999" stroke="#8c8c8c" stroke-width="0.6"/>
<polygon points="288.85,458.10 292.25,451.50 295.65,458.10" fill="#999" stroke="#8c8c8c" stroke-width="0.6"/>
<polygon points="298.25,458.10 301.65,451.50 305.05,458.10" fill="#999" stroke="#8c8c8c" stroke-width="0.6"/>
<polygon points="307.65,458.10 311.05,451.50 314.45,458.10" fill="#999" stroke="#8c8c8c" stroke-width="0.6"/>
<polygon points="317.05,458.10 320.45,451.50 323.85,458.10" fill="#999" stroke="#8c8c8c" stroke-width="0.6"/>
<polygon points="326.45,458.10 329.85,451.50 333.25,458.10" fill="#999" stroke="#8c8c8c" stroke-width="0.6"/>
<polygon points="335.85,458.10 339.25,451.50 342.65,458.10" fill="#999" stroke="#8c8c8c" stroke-width="0.6"/>
<polyline points="57.25,458.30 66.65,458.30 76.05,458.30 85.45,458.30 94.85,458.30 104.25,458.30 113.65,458.30 123.05,458.30 132.45,458.30 141.85,458.30 151.25,458.30 160.65,458.30 170.05,478.61 179.45,502.21 188.85,525.95 198.25,554.72 207.65,584.00" fill="none" stroke="#5e5e5e" stroke-width="2.2" stroke-linejoin="round"/>
<rect x="186.15" y="523.45" width="5.4" height="5" fill="#666" stroke="#4a4a4a" stroke-width="0.7"/>
<rect x="195.55" y="552.22" width="5.4" height="5" fill="#666" stroke="#4a4a4a" stroke-width="0.7"/>
<rect x="204.95" y="581.50" width="5.4" height="5" fill="#666" stroke="#4a4a4a" stroke-width="0.7"/>
<polyline points="57.25,457.00 66.65,457.00 76.05,457.00 85.45,457.00 94.85,457.00 104.25,457.00 113.65,457.00 123.05,457.00 132.45,457.00 141.85,457.00 151.25,457.00 160.65,457.00 170.05,484.02 179.45,498.86 188.85,498.86 198.25,527.88 207.65,555.23 217.05,584.00" fill="none" stroke="#686868" stroke-width="2.2" stroke-linejoin="round"/>
<polyline points="57.25,455.10 66.65,455.10 76.05,455.10 85.45,455.10 94.85,455.10 104.25,455.10 113.65,455.10 123.05,455.10 132.45,455.10 141.85,455.10 151.25,455.10 160.65,455.10 170.05,467.90 179.45,467.90 188.85,502.73 198.25,554.72 207.65,569.81 217.05,584.00" fill="none" stroke="#000000" stroke-width="2.6" stroke-linejoin="round"/>
<circle cx="57.25" cy="455.10" r="2.6" fill="#000"/>
<circle cx="66.65" cy="455.10" r="2.6" fill="#000"/>
<circle cx="76.05" cy="455.10" r="2.6" fill="#000"/>
<circle cx="85.45" cy="455.10" r="2.6" fill="#000"/>
<circle cx="94.85" cy="455.10" r="2.6" fill="#000"/>
<circle cx="104.25" cy="455.10" r="2.6" fill="#000"/>
<circle cx="113.65" cy="455.10" r="2.6" fill="#000"/>
<circle cx="123.05" cy="455.10" r="2.6" fill="#000"/>
<circle cx="132.45" cy="455.10" r="2.6" fill="#000"/>
<circle cx="141.85" cy="455.10" r="2.6" fill="#000"/>
<circle cx="151.25" cy="455.10" r="2.6" fill="#000"/>
<circle cx="160.65" cy="455.10" r="2.6" fill="#000"/>
<circle cx="170.05" cy="467.90" r="2.6" fill="#000"/>
<circle cx="179.45" cy="467.90" r="2.6" fill="#000"/>
<circle cx="188.85" cy="502.73" r="2.6" fill="#000"/>
<circle cx="198.25" cy="554.72" r="2.6" fill="#000"/>
<circle cx="207.65" cy="569.81" r="2.6" fill="#000"/>
<circle cx="217.05" cy="584.00" r="2.6" fill="#000"/>
<polygon points="52.75,458.85 57.25,449.45 61.75,458.85" fill="#828282" stroke="#5e5e5e" stroke-width="0.7"/>
<polygon points="62.15,458.85 66.65,449.45 71.15,458.85" fill="#828282" stroke="#5e5e5e" stroke-width="0.7"/>
<polygon points="71.55,458.85 76.05,449.45 80.55,458.85" fill="#828282" stroke="#5e5e5e" stroke-width="0.7"/>
<polygon points="80.95,458.85 85.45,449.45 89.95,458.85" fill="#828282" stroke="#5e5e5e" stroke-width="0.7"/>
<polygon points="90.35,458.85 94.85,449.45 99.35,458.85" fill="#828282" stroke="#5e5e5e" stroke-width="0.7"/>
<polygon points="99.75,458.85 104.25,449.45 108.75,458.85" fill="#828282" stroke="#5e5e5e" stroke-width="0.7"/>
<polygon points="109.15,458.85 113.65,449.45 118.15,458.85" fill="#828282" stroke="#5e5e5e" stroke-width="0.7"/>
<polygon points="118.55,458.85 123.05,449.45 127.55,458.85" fill="#828282" stroke="#5e5e5e" stroke-width="0.7"/>
<polygon points="127.95,458.85 132.45,449.45 136.95,458.85" fill="#828282" stroke="#5e5e5e" stroke-width="0.7"/>
<polygon points="137.35,458.85 141.85,449.45 146.35,458.85" fill="#828282" stroke="#5e5e5e" stroke-width="0.7"/>
<polygon points="146.75,458.85 151.25,449.45 155.75,458.85" fill="#828282" stroke="#5e5e5e" stroke-width="0.7"/>
<polygon points="156.15,458.85 160.65,449.45 165.15,458.85" fill="#828282" stroke="#5e5e5e" stroke-width="0.7"/>
<polygon points="165.55,487.87 170.05,478.47 174.55,487.87" fill="#828282" stroke="#5e5e5e" stroke-width="0.7"/>
<polygon points="174.95,502.71 179.45,493.31 183.95,502.71" fill="#828282" stroke="#5e5e5e" stroke-width="0.7"/>
<polygon points="184.35,502.71 188.85,493.31 193.35,502.71" fill="#828282" stroke="#5e5e5e" stroke-width="0.7"/>
<polygon points="193.75,531.74 198.25,522.33 202.75,531.74" fill="#828282" stroke="#5e5e5e" stroke-width="0.7"/>
<polygon points="203.15,559.08 207.65,549.68 212.15,559.08" fill="#828282" stroke="#5e5e5e" stroke-width="0.7"/>
<polygon points="212.55,587.85 217.05,578.45 221.55,587.85" fill="#828282" stroke="#5e5e5e" stroke-width="0.7"/>
<line x1="369.7" y1="463.5" x2="395.6" y2="463.5" stroke="#aaaaaa" stroke-width="2"/>
<polygon points="379.65,466.90 382.65,460.30 385.65,466.90" fill="#9a9a9a" stroke="#8c8c8c" stroke-width="0.4"/>
<text x="397.3" y="466.9" font-size="11.5" font-weight="bold">synBMT</text>
<line x1="369.7" y1="497.3" x2="395.6" y2="497.3" stroke="#5a5a5a" stroke-width="2"/>
<rect x="380.15" y="494.80" width="5" height="5" fill="#666" stroke="#4a4a4a" stroke-width="0.5"/>
<text x="397.3" y="501.2" font-size="11.5" font-weight="bold">synBMT + 10000 P815</text>
<text x="397.3" y="513.8" font-size="11.5" font-weight="bold">cells sham</text>
<line x1="369.7" y1="531" x2="395.6" y2="531" stroke="#000000" stroke-width="2.7"/>
<circle cx="382.65" cy="531.00" r="2.4" fill="#000"/>
<text x="397.3" y="534.8" font-size="11.5" font-weight="bold">alloBMT + 10000 P815</text>
<text x="397.3" y="547.5" font-size="11.5" font-weight="bold">cells sham</text>
<line x1="369.7" y1="564.8" x2="395.6" y2="564.8" stroke="#777777" stroke-width="2"/>
<polygon points="379.75,568.20 382.65,561.80 385.55,568.20" fill="#7e7e7e" stroke="#5e5e5e" stroke-width="0.4"/>
<text x="397.3" y="568.4" font-size="11.5" font-weight="bold">alloBMT + 10000 P815</text>
<text x="397.3" y="581.2" font-size="11.5" font-weight="bold">cells LDE223</text>
</svg>
</body></html>
